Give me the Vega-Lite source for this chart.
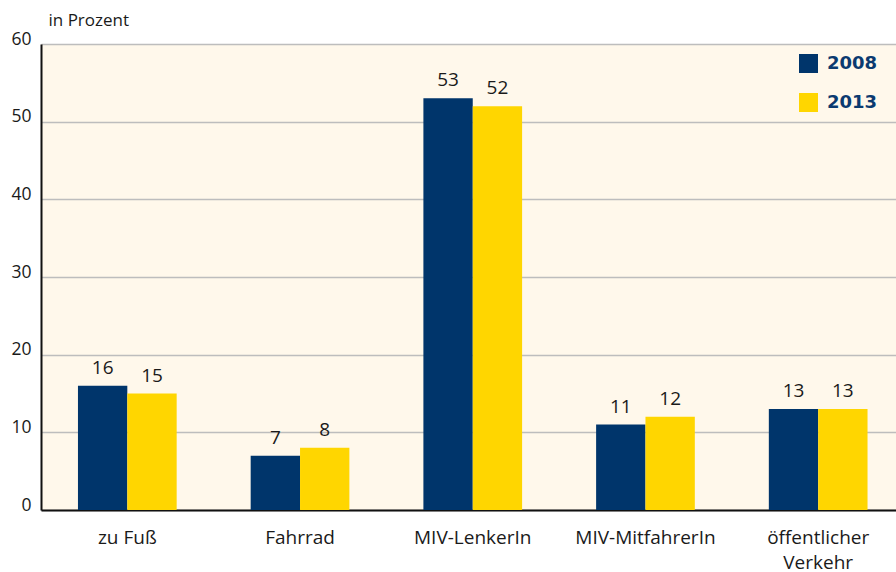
{
  "$schema": "https://vega.github.io/schema/vega-lite/v6.json",
  "width": 855,
  "height": 466,
  "autosize": "none",
  "padding": {"left": 41, "top": 44, "right": 0, "bottom": 62},
  "background": "white",
  "config": {
    "font": "Open Sans",
    "view": {"fill": "#FFF8EB", "stroke": null}
  },
  "data": {
    "values": [
      {"Kategorie": "zu Fuß", "Jahr": "2008", "Wert": 16},
      {"Kategorie": "zu Fuß", "Jahr": "2013", "Wert": 15},
      {"Kategorie": "Fahrrad", "Jahr": "2008", "Wert": 7},
      {"Kategorie": "Fahrrad", "Jahr": "2013", "Wert": 8},
      {"Kategorie": "MIV-LenkerIn", "Jahr": "2008", "Wert": 53},
      {"Kategorie": "MIV-LenkerIn", "Jahr": "2013", "Wert": 52},
      {"Kategorie": "MIV-MitfahrerIn", "Jahr": "2008", "Wert": 11},
      {"Kategorie": "MIV-MitfahrerIn", "Jahr": "2013", "Wert": 12},
      {"Kategorie": "öffentlicher Verkehr", "Jahr": "2008", "Wert": 13},
      {"Kategorie": "öffentlicher Verkehr", "Jahr": "2013", "Wert": 13}
    ]
  },
  "encoding": {
    "x": {
      "field": "Kategorie",
      "type": "nominal",
      "sort": null,
      "scale": {"range": [0, 863.5], "paddingInner": 0.4285, "paddingOuter": 0.214},
      "axis": {
        "title": null,
        "labelAngle": 0,
        "labelFontSize": 19,
        "labelColor": "#1a1a1a",
        "labelPadding": 18,
        "labelBaseline": "top",
        "labelLineHeight": 25,
        "labelExpr": "datum.label == 'öffentlicher Verkehr' ? ['öffentlicher', 'Verkehr'] : datum.label",
        "ticks": false,
        "domainColor": "#111111",
        "domainWidth": 2,
        "grid": false
      }
    },
    "xOffset": {"field": "Jahr", "type": "nominal", "scale": {"paddingInner": 0, "paddingOuter": 0}},
    "y": {
      "field": "Wert",
      "type": "quantitative",
      "scale": {"domain": [0, 60], "nice": false},
      "axis": {
        "values": [0, 10, 20, 30, 40, 50, 60],
        "title": "in Prozent",
        "titleAngle": 0,
        "titleX": 7,
        "titleY": -24,
        "titleAlign": "left",
        "titleBaseline": "middle",
        "titleFontSize": 17,
        "titleFontWeight": "normal",
        "titleColor": "#1a1a1a",
        "labelFontSize": 17.5,
        "labelColor": "#1a1a1a",
        "labelBaseline": "alphabetic",
        "labelPadding": 10,
        "ticks": false,
        "domainColor": "#111111",
        "domainWidth": 2,
        "gridColor": "#BDBDBD",
        "gridWidth": 1.5
      }
    }
  },
  "layer": [
    {
      "mark": {"type": "bar"},
      "encoding": {
        "color": {
          "field": "Jahr",
          "type": "nominal",
          "scale": {"domain": ["2008", "2013"], "range": ["#00356B", "#FFD600"]},
          "legend": {
            "title": null,
            "orient": "none",
            "legendX": 758,
            "legendY": 10,
            "symbolType": "square",
            "symbolSize": 361,
            "symbolStrokeWidth": 0,
            "symbolOpacity": 1,
            "labelFont": "DejaVu Sans",
            "labelFontSize": 18,
            "labelFontWeight": "bold",
            "labelColor": "#0B3A70",
            "labelOffset": 9,
            "rowPadding": 20
          }
        }
      }
    },
    {
      "mark": {"type": "text", "baseline": "alphabetic", "dy": -12, "fontSize": 19, "color": "#1a1a1a"},
      "encoding": {"text": {"field": "Wert", "type": "quantitative"}}
    }
  ]
}
